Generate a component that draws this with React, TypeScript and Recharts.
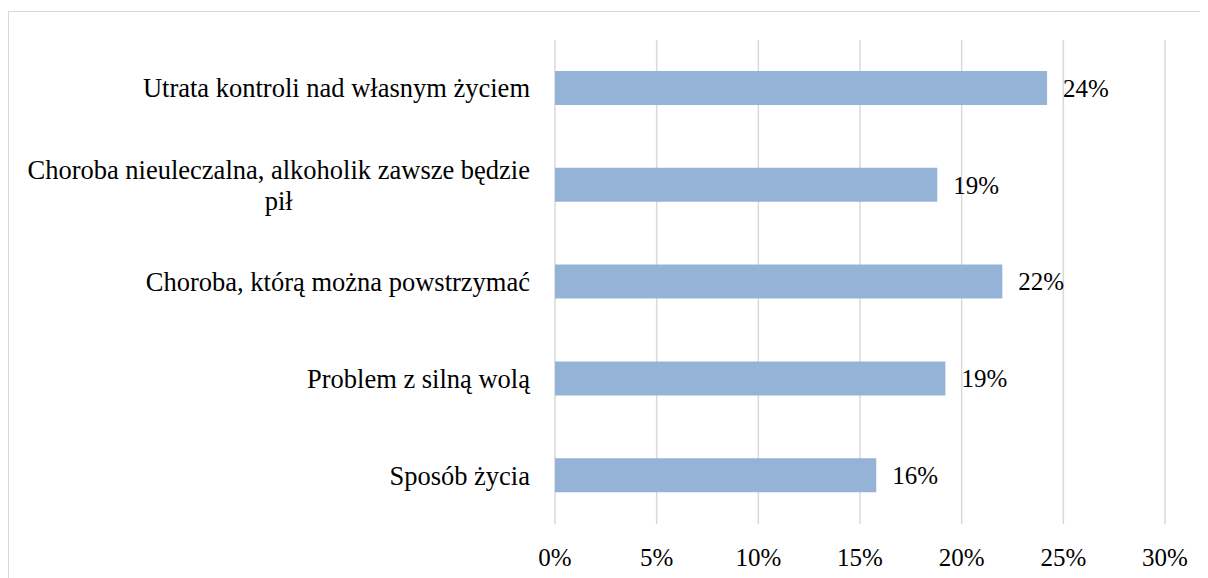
import React from 'react';
import { BarChart, Bar, XAxis, YAxis, CartesianGrid, LabelList } from 'recharts';

const categories = [
  'Utrata kontroli nad własnym życiem',
  'Choroba nieuleczalna, alkoholik zawsze będzie pił',
  'Choroba, którą można powstrzymać',
  'Problem z silną wolą',
  'Sposób życia',
];
const values = [24.2, 18.8, 22.0, 19.2, 15.8];
const xTicks = [0, 5, 10, 15, 20, 25, 30];

const data = categories.map((c, i) => ({ name: c, value: values[i] }));

const FONT = "'Liberation Serif', 'Times New Roman', serif";
const FS = 25;
const FS_CAT = 26.5;

let ctx: CanvasRenderingContext2D | null = null;
const measure = (s: string) => {
  if (!ctx) {
    const c = document.createElement('canvas');
    ctx = c.getContext('2d');
  }
  if (!ctx) return s.length * FS_CAT * 0.45;
  ctx.font = `${FS_CAT}px ${FONT}`;
  return ctx.measureText(s).width;
};

const wrap = (s: string, maxW: number) => {
  const words = s.split(' ');
  const lines: string[] = [];
  let cur = '';
  for (const w of words) {
    const t = cur ? cur + ' ' + w : w;
    if (measure(t) > maxW && cur) {
      lines.push(cur);
      cur = w;
    } else cur = t;
  }
  if (cur) lines.push(cur);
  return lines;
};

const txtStyle = { fontFamily: FONT, fontSize: FS };
const catStyle = { fontFamily: FONT, fontSize: FS_CAT };

const YTick = (props: any) => {
  const { x, y, payload } = props;
  const lines = wrap(payload.value, 520);
  const bw = Math.max(...lines.map(measure));
  const right = x - 17;
  const cx = right - bw / 2;
  const lh = 31;
  return (
    <g>
      {lines.map((l, i) => (
        <text
          key={i}
          x={cx}
          y={y + (i - (lines.length - 1) / 2) * lh}
          textAnchor="middle"
          dominantBaseline="central"
          style={catStyle}
          fill="#000"
        >
          {l}
        </text>
      ))}
    </g>
  );
};

const XTick = (props: any) => {
  const { x, payload } = props;
  return (
    <text x={x} y={549} textAnchor="middle" dominantBaseline="central" style={txtStyle} fill="#000">
      {payload.value + '%'}
    </text>
  );
};

export default function App() {
  return (
    <div style={{ width: 1200, height: 570, overflow: 'hidden', position: 'relative', fontFamily: FONT }}>
      <div
        style={{
          position: 'absolute',
          left: 0,
          top: 3,
          width: 1250,
          height: 650,
          border: '1px solid #d9d9d9',
          boxSizing: 'border-box',
        }}
      />
      <div style={{ position: 'absolute', left: 0, top: 0 }}>
        <BarChart
          width={1200}
          height={570}
          data={data}
          layout="vertical"
          margin={{ top: 32, right: 43, bottom: 24, left: 0 }}
          barSize={34}
          style={{ fontFamily: FONT }}
        >
          <CartesianGrid horizontal={false} stroke="#d9d9d9" strokeWidth={1.5} />
          <XAxis
            type="number"
            domain={[0, 30]}
            ticks={xTicks}
            axisLine={false}
            tickLine={false}
            height={30}
            tick={<XTick />}
            interval={0}
          />
          <YAxis
            type="category"
            dataKey="name"
            width={547}
            axisLine={false}
            tickLine={false}
            tick={<YTick />}
            interval={0}
          />
          <Bar dataKey="value" fill="#95b3d7" isAnimationActive={false}>
            <LabelList
              dataKey="value"
              position="right"
              offset={16}
              formatter={(v: any) => Math.round(Number(v)) + '%'}
              style={txtStyle}
              fill="#000"
            />
          </Bar>
        </BarChart>
      </div>
    </div>
  );
}
